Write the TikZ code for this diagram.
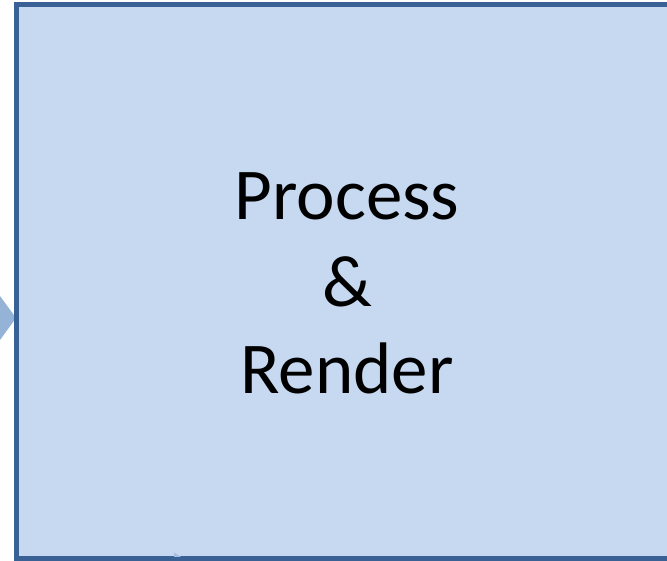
\documentclass[tikz,border=0pt]{standalone}
\usepackage{fontspec}
\setmainfont{Carlito}
\usetikzlibrary{positioning, calc}
\definecolor{boxfill}{HTML}{C6D9F1}
\definecolor{boxline}{HTML}{3A6195}
\definecolor{arrowfill}{HTML}{95B3D7}
\definecolor{tipfill}{HTML}{A3BEE0}
\begin{document}
\begin{tikzpicture}[
  x=1pt, y=1pt,
  stagebox/.style={rectangle, fill=boxfill, outer sep=0pt, inner sep=0pt,
                   minimum width=662pt, minimum height=554.5pt},
  boxborder/.style={draw=boxline, line width=5pt},
  stagetext/.style={align=center, inner sep=0pt, font=\fontsize{73}{87}\selectfont},
  arrowtip/.style={fill=arrowfill, draw=none},
]
\fill[white] (0,0) rectangle (667,561);
\useasboundingbox (0,0) rectangle (667,561);
% incoming arrow from the left
\fill[arrowtip] (0,265) -- (16,243) -- (0,221) -- cycle;
\node[stagebox, anchor=west] (render) at (16.5,279.25) {};
% box is cut off at the right margin, so no right side
\draw[boxborder] (render.north east) -- (render.north west)
  -- (render.south west) -- (render.south east);
\node[stagetext] (caption) at (347,277.5) {Process\\\&\\Render};
% arrow tip at the bottom
\fill[fill=tipfill] ($(render.south west)+(157.5,6.5)$) -- ++(7,-4.5) -- ++(-7,0) -- cycle;
\end{tikzpicture}
\end{document}
